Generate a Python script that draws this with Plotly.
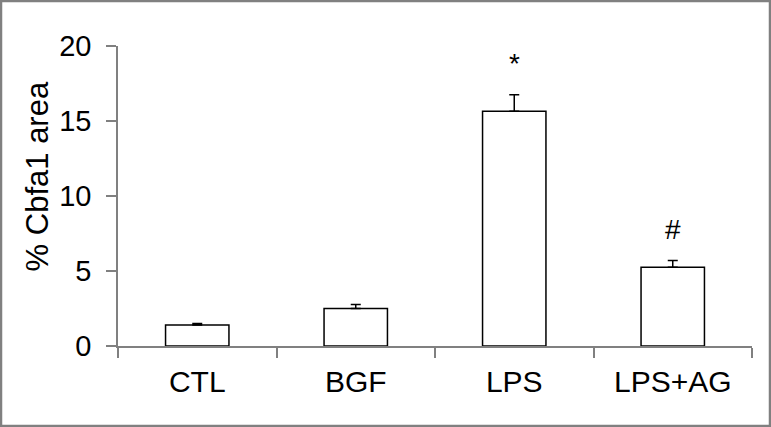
import plotly.graph_objects as go

# datos
grupos = ["CTL", "BGF", "LPS", "LPS+AG"]
area_media = [1.4, 2.5, 15.65, 5.25]
area_error = [0.1, 0.27, 1.1, 0.45]
marcas = ["", "", "*", "#"]

fig = go.Figure()
fig.add_trace(go.Bar(
    x=grupos,
    y=area_media,
    width=0.4,
    marker=dict(color="white", line=dict(color="black", width=1.5)),
    error_y=dict(type="data", array=area_error, symmetric=False,
                 color="black", thickness=1.5, width=5),
))

# asterisco y gato sobre las barras
for g, m, e, s in zip(grupos, area_media, area_error, marcas):
    if s:
        fig.add_annotation(x=g, y=m + e + 2.1, text=s, showarrow=False,
                           font=dict(size=28, color="black"),
                           xanchor="center", yanchor="middle")

# titulo del eje y como anotacion (queda un poco arriba del centro)
fig.add_annotation(xref="paper", yref="paper", x=-0.127, y=0.567,
                   text="% Cbfa1 area", textangle=-90, showarrow=False,
                   font=dict(size=31, color="black"),
                   xanchor="center", yanchor="middle")

fig.update_layout(
    width=771, height=427,
    margin=dict(l=118, r=19, t=46, b=81),
    paper_bgcolor="white", plot_bgcolor="white",
    showlegend=False,
    font=dict(family="Liberation Sans, Arial", color="black"),
)
fig.update_xaxes(
    type="category", range=[-0.5, 3.5], automargin=False,
    showline=True, linecolor="#808080", linewidth=1.5,
    ticks="outside", tickson="boundaries", ticklen=10, tickcolor="#808080", tickwidth=1.5,
    tickfont=dict(size=30), ticklabelstandoff=8, showgrid=False,
)
fig.update_yaxes(
    range=[0, 20], tickvals=[0, 5, 10, 15, 20], automargin=False,
    showline=True, linecolor="#808080", linewidth=1.5,
    ticks="outside", ticklen=10, tickcolor="#808080", tickwidth=1.5,
    tickfont=dict(size=29), ticklabelstandoff=9, showgrid=False, zeroline=False,
)

# marco gris de la imagen
fig.add_shape(type="rect", xref="paper", yref="paper",
              x0=-117 / 634, x1=1 + 18 / 634, y0=-80 / 300, y1=1 + 45 / 300,
              line=dict(color="#808080", width=2.5), layer="above")

# quitar el margen del body para que la figura quede en 0,0
fig.write_html("out.html", config={"displayModeBar": False},
               post_script="document.body.style.margin='0';")
